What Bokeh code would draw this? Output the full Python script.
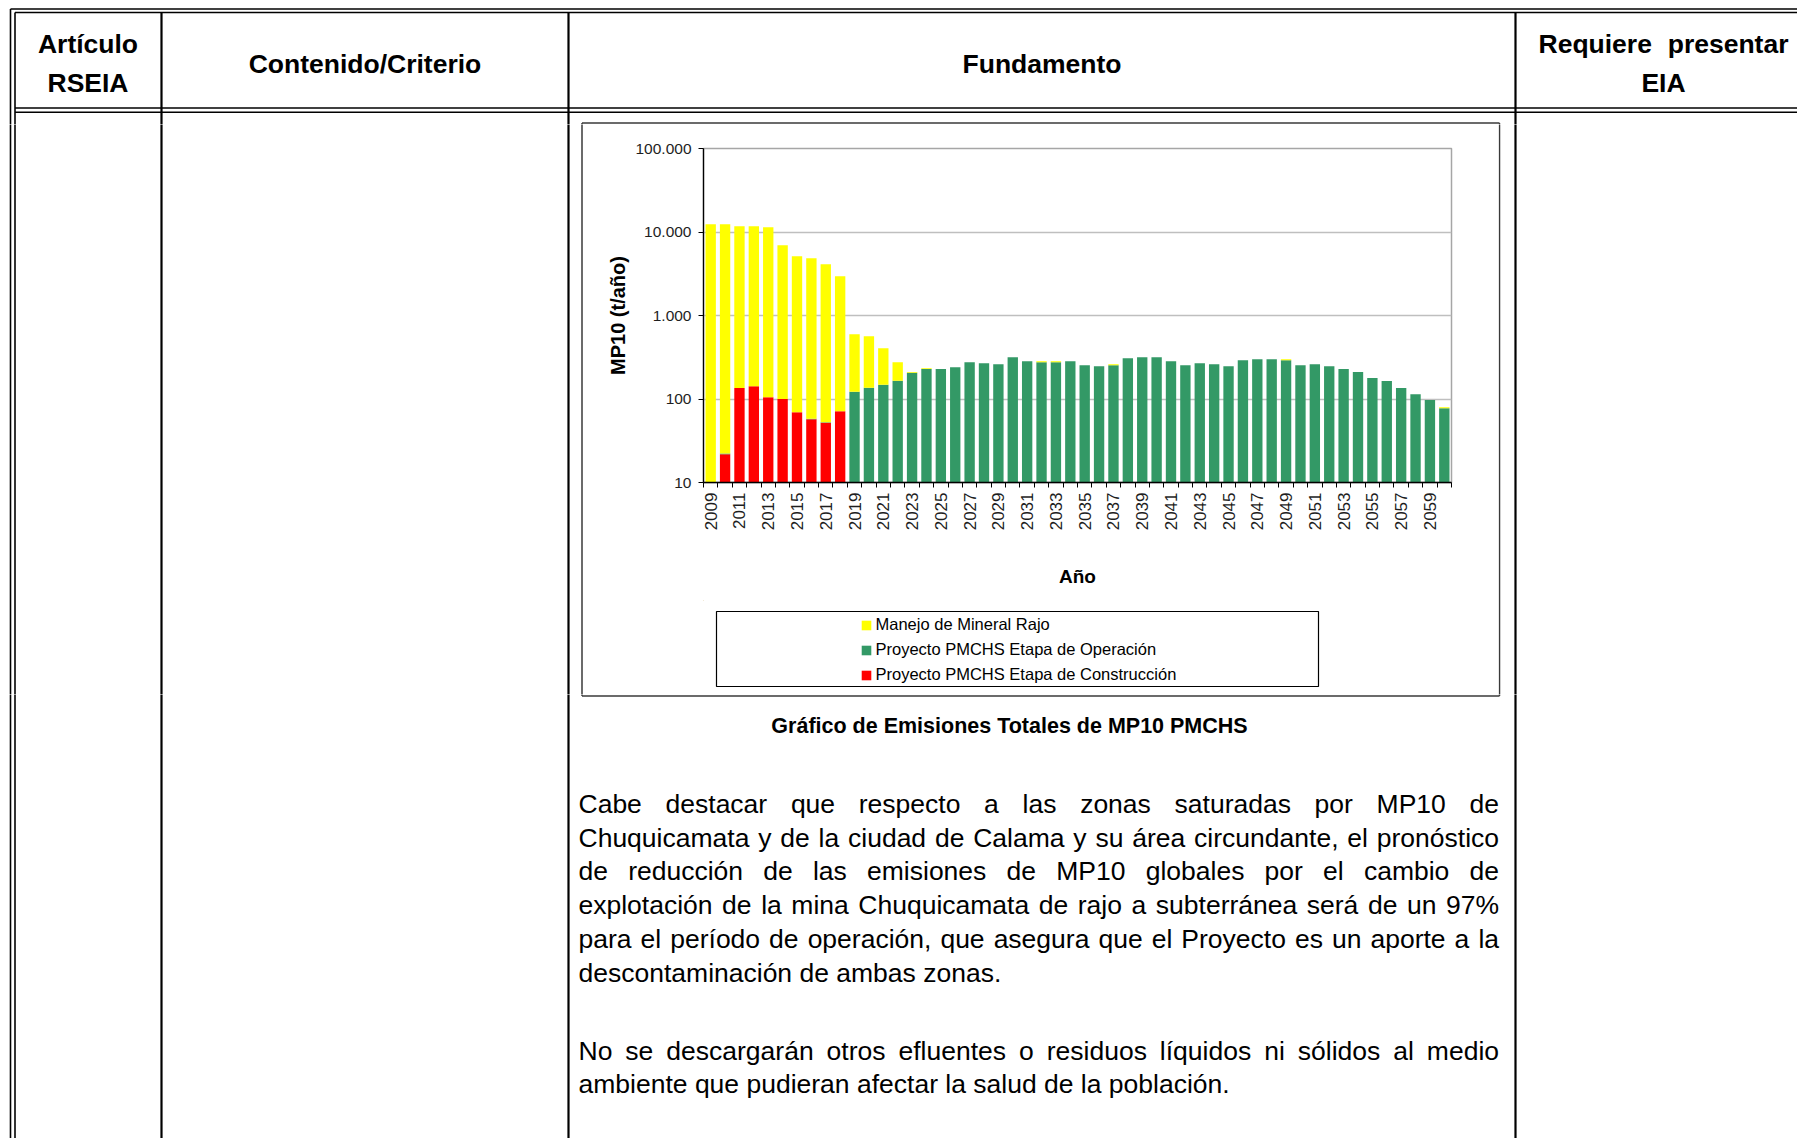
import math
import numpy as np
from bokeh.plotting import figure
from bokeh.layouts import column, row
from bokeh.models import Range1d, FixedTicker, ColumnDataSource, Legend, LegendItem
from bokeh.core.properties import value
from bokeh.embed import file_html
from bokeh.resources import INLINE

# ---------------- data ----------------
years = list(range(2009, 2061))
construccion = [0, 21.8, 135, 142.6, 105, 100, 69.5, 57.3, 51.9, 71.5] + [0] * 42
operacion = [0, 0.5, 0, 0, 0, 0, 0, 0.7, 0.6, 0,
             122, 136, 148, 165, 206, 228, 228, 240, 276, 268,
             261, 317, 284, 276, 276, 284, 254, 247, 254, 308,
             317, 317, 284, 254, 268, 261, 247, 292, 300, 300,
             292, 254, 261, 247, 228, 210, 178, 164, 135, 114,
             97, 77.6]
mineral = [12400, 12378, 11615, 11607, 11325, 6850, 5070, 4802, 4067, 2888,
           475, 430, 258, 111, 4, 6,
           0, 0, 0, 0, 0, 0, 0,
           8, 8,
           0, 0, 0,
           7,
           0, 0, 0, 0, 0, 0, 0, 0, 0, 0, 0,
           8,
           0, 0, 0, 0, 0, 0, 0, 0, 0, 0,
           2.2]
series_names = ["Manejo de Mineral Rajo",
                "Proyecto PMCHS Etapa de Operación",
                "Proyecto PMCHS Etapa de Construcción"]
series_colors = ["#FFFF00", "#339966", "#FF0000"]
y_ticks = [10, 100, 1000, 10000, 100000]
y_tick_labels = ["10", "100", "1.000", "10.000", "100.000"]
x_tick_years = years[::2]
y_axis_title = "MP10 (t/año)"
x_axis_title = "Año"
caption = "Gráfico de Emisiones Totales de MP10 PMCHS"
header_cells = ["Artículo", "RSEIA", "Contenido/Criterio", "Fundamento", "EIA"]
para1 = ["Cabe destacar que respecto a las zonas saturadas por MP10 de",
         "Chuquicamata y de la ciudad de Calama y su área circundante, el pronóstico",
         "de reducción de las emisiones de MP10 globales por el cambio de",
         "explotación de la mina Chuquicamata de rajo a subterránea será de un 97%",
         "para el período de operación, que asegura que el Proyecto es un aporte a la",
         "descontaminación de ambas zonas."]
para2 = ["No se descargarán otros efluentes o residuos líquidos ni sólidos al medio",
         "ambiente que pudieran afectar la salud de la población."]

FONT = "Liberation Sans"

# Arial/Helvetica advance widths (1/1000 em)
W = {" ": 278, "!": 278, "%": 889, "(": 333, ")": 333, ",": 278, "-": 333, ".": 278, "/": 278, ":": 278}
for ch in "0123456789":
    W[ch] = 556
W.update(dict(zip("ABCDEFGHIJKLMNOPQRSTUVWXYZ",
                  [667, 667, 722, 722, 667, 611, 778, 722, 278, 500, 667, 556, 833, 722, 778, 667, 778, 722, 667, 611, 722, 667, 944, 667, 667, 611])))
W.update(dict(zip("abcdefghijklmnopqrstuvwxyz",
                  [556, 556, 500, 556, 556, 278, 556, 556, 222, 222, 500, 222, 833, 556, 556, 556, 556, 333, 500, 278, 556, 500, 722, 500, 500, 500])))
W.update({"á": 556, "é": 556, "í": 278, "ó": 556, "ú": 556, "ñ": 556})


def tw(s, size):
    return sum(W.get(c, 556) for c in s) * size / 1000.0


# ---------------- page geometry (reference pixels) ----------------
PX0, PX1 = 0, 1797
PY0, PY1 = 0, 1138
XO_L, XI_L = 10, 14.5
Y_TOP_O, Y_TOP_I = 8.5, 12
HDR1, HDR2 = 107.5, 111.7
COLS = [161, 568, 1515]
BOX = (581.5, 1499, 122.5, 695.5)
XE = 1810
YE = 1150
CH_X0, CH_X1 = 584, 1498      # chart column
CH_Y0, CH_Y1, LG_Y1 = 124, 600, 694
FR_L, FR_R = 119, 47           # chart frame borders


def page_fig(x0, x1, y0, y1):
    p = figure(width=int(x1 - x0), height=int(y1 - y0),
               x_range=Range1d(x0, x1), y_range=Range1d(y1, y0),
               x_axis_type=None, y_axis_type=None,
               toolbar_location=None, output_backend="svg", min_border=0)
    p.outline_line_color = None
    p.background_fill_color = "white"
    p.border_fill_color = "white"
    p.segment(x0=[XO_L, XI_L, XO_L, XI_L, XI_L, XI_L],
              y0=[Y_TOP_O, Y_TOP_I, Y_TOP_O, Y_TOP_I, HDR1, HDR2],
              x1=[XE, XE, XO_L, XI_L, XE, XE],
              y1=[Y_TOP_O, Y_TOP_I, YE, YE, HDR1, HDR2],
              line_color="black", line_width=1.6)
    p.segment(x0=COLS, y0=[Y_TOP_I] * 3, x1=COLS, y1=[YE] * 3,
              line_color="black", line_width=2.2)
    bl, br, bt, bb = BOX
    p.segment(x0=[bl, bl, bl, br], y0=[bt, bb, bt, bt],
              x1=[br, br, bl, br], y1=[bt, bb, bb, bb],
              line_color="#3a3a3a", line_width=1.5)
    return p


# ---------------- top (header) ----------------
top = page_fig(PX0, PX1, PY0, CH_Y0)
top.text(x=[87.5, 87.5, 364.5, 1041.5, 1663],
         y=[43.5, 82.5, 63, 63, 82.5],
         text=header_cells,
         text_font=value(FONT), text_font_size="26.5px", text_font_style="bold",
         text_align="center", text_baseline="middle", text_color="black")
top.text(x=[1538, 1788], y=[43.5, 43.5], text=["Requiere", "presentar"],
         text_font=value(FONT), text_font_size="26.5px", text_font_style="bold",
         text_align=["left", "right"], text_baseline="middle", text_color="black")

left = page_fig(PX0, CH_X0, CH_Y0, LG_Y1)
right = page_fig(CH_X1, PX1, CH_Y0, LG_Y1)

# ---------------- chart ----------------
base = 1.0
c1 = np.array(construccion, dtype=float)
c2 = c1 + np.array(operacion, dtype=float)
c3 = c2 + np.array(mineral, dtype=float)
src = ColumnDataSource(dict(
    x=years,
    r_top=np.maximum(c1, base),
    g_top=np.maximum(c2, base),
    y_top=np.maximum(c3, base),
))

chart = figure(width=CH_X1 - CH_X0, height=CH_Y1 - CH_Y0,
               x_range=Range1d(years[0] - 0.5, years[-1] + 0.5),
               y_range=Range1d(y_ticks[0], y_ticks[-1]), y_axis_type="log",
               toolbar_location=None, output_backend="svg",
               min_border_left=FR_L, min_border_right=FR_R,
               min_border_top=24, min_border_bottom=118)
chart.background_fill_color = "white"
chart.border_fill_color = "white"
chart.outline_line_color = "#a6a6a6"
chart.outline_line_width = 1.5

BW = 0.72
chart.vbar(x="x", bottom=base, top="r_top", width=BW, source=src,
           fill_color=series_colors[2], line_color=None)
chart.vbar(x="x", bottom="r_top", top="g_top", width=BW, source=src,
           fill_color=series_colors[1], line_color=None)
chart.vbar(x="x", bottom="g_top", top="y_top", width=BW, source=src,
           fill_color=series_colors[0], line_color=None)

chart.xgrid.visible = False
chart.ygrid.grid_line_color = "#bfbfbf"
chart.ygrid.grid_line_width = 1.3

ya = chart.yaxis[0]
ya.ticker = FixedTicker(ticks=y_ticks)
ya.major_label_overrides = dict(zip(y_ticks, y_tick_labels))
ya.major_tick_out = 5
ya.major_tick_in = 0
ya.minor_tick_out = 0
ya.minor_tick_in = 0
ya.major_label_standoff = 7
ya.axis_line_color = "black"
ya.axis_line_width = 1.3
ya.major_tick_line_color = "black"
ya.major_label_text_font = FONT
ya.major_label_text_font_size = "15.5px"
ya.major_label_text_color = "#1e1e1e"
ya.axis_label = y_axis_title
ya.axis_label_text_font = FONT
ya.axis_label_text_font_size = "20px"
ya.axis_label_text_font_style = "bold"
ya.axis_label_text_color = "black"
ya.axis_label_standoff = 3

xa = chart.xaxis[0]
xa.ticker = FixedTicker(ticks=x_tick_years,
                        minor_ticks=[y - 0.5 for y in years] + [years[-1] + 0.5])
xa.major_label_overrides = {y: str(y) for y in x_tick_years}
xa.major_label_orientation = math.pi / 2
xa.major_tick_out = 0
xa.major_tick_in = 0
xa.minor_tick_out = 5
xa.minor_tick_in = 0
xa.minor_tick_line_color = "black"
xa.major_label_standoff = 5
xa.axis_line_color = "black"
xa.axis_line_width = 1.3
xa.major_label_text_font = FONT
xa.major_label_text_font_size = "17px"
xa.major_label_text_color = "#1e1e1e"
xa.axis_label = x_axis_title
xa.axis_label_text_font = FONT
xa.axis_label_text_font_size = "19px"
xa.axis_label_text_font_style = "bold"
xa.axis_label_text_color = "black"
xa.axis_label_standoff = 33

# ---------------- legend (frame aligned with chart frame) ----------------
LF_X0, LF_X1 = CH_X0 + FR_L, CH_X1 - FR_R
legfig = figure(width=CH_X1 - CH_X0, height=LG_Y1 - CH_Y1,
                x_range=Range1d(LF_X0, LF_X1), y_range=Range1d(LG_Y1, CH_Y1),
                x_axis_type=None, y_axis_type=None,
                toolbar_location=None, output_backend="svg",
                min_border_left=FR_L, min_border_right=FR_R,
                min_border_top=0, min_border_bottom=0)
legfig.outline_line_color = None
legfig.background_fill_color = "white"
legfig.border_fill_color = "white"
legfig.quad(left=[716], right=[1318], top=[611], bottom=[686],
            fill_color=None, line_color="black", line_width=1.2)
items = []
for name, col in zip(series_names, series_colors):
    # swatch-only renderer (zero-size, outside the visible range)
    r = legfig.vbar(x=[0], bottom=[0], top=[0], width=1, fill_color=col, line_color=None)
    items.append(LegendItem(label=name, renderers=[r]))
leg = Legend(items=items, location=(859.5 - LF_X0, 9), orientation="vertical",
             padding=0, margin=0, border_line_color=None, background_fill_alpha=0,
             label_text_font=FONT, label_text_font_size="16.5px", label_text_color="black",
             glyph_width=12, glyph_height=12, label_standoff=4, spacing=4,
             label_height=21)
legfig.add_layout(leg, "center")

# ---------------- bottom ----------------
bottom = page_fig(PX0, PX1, LG_Y1, PY1)
bottom.text(x=[1009], y=[725.5], text=[caption],
            text_font=value(FONT), text_font_size="21.5px", text_font_style="bold",
            text_align="center", text_baseline="middle", text_color="black")

FS = 26.5
TX0, TX1 = 578, 1498.5
wx, wy, wt = [], [], []


def lay_para(lines, y0, pitch):
    for i, line in enumerate(lines):
        y = y0 + i * pitch
        if i == len(lines) - 1:
            wx.append(TX0); wy.append(y); wt.append(line)
            continue
        words = line.split(" ")
        total = sum(tw(w, FS) for w in words)
        gap = (TX1 - TX0 - total) / (len(words) - 1)
        x = TX0
        for w in words:
            wx.append(x); wy.append(y); wt.append(w)
            x += tw(w, FS) + gap


lay_para(para1, 803.5, 33.7)
lay_para(para2, 1050, 33.7)
bottom.text(x=wx, y=wy, text=wt, text_font=value(FONT), text_font_size="26.5px",
            text_align="left", text_baseline="middle", text_color="black")

layout = column(top, row(left, column(chart, legfig), right), bottom)
open("out.html", "w").write(file_html(layout, INLINE))
